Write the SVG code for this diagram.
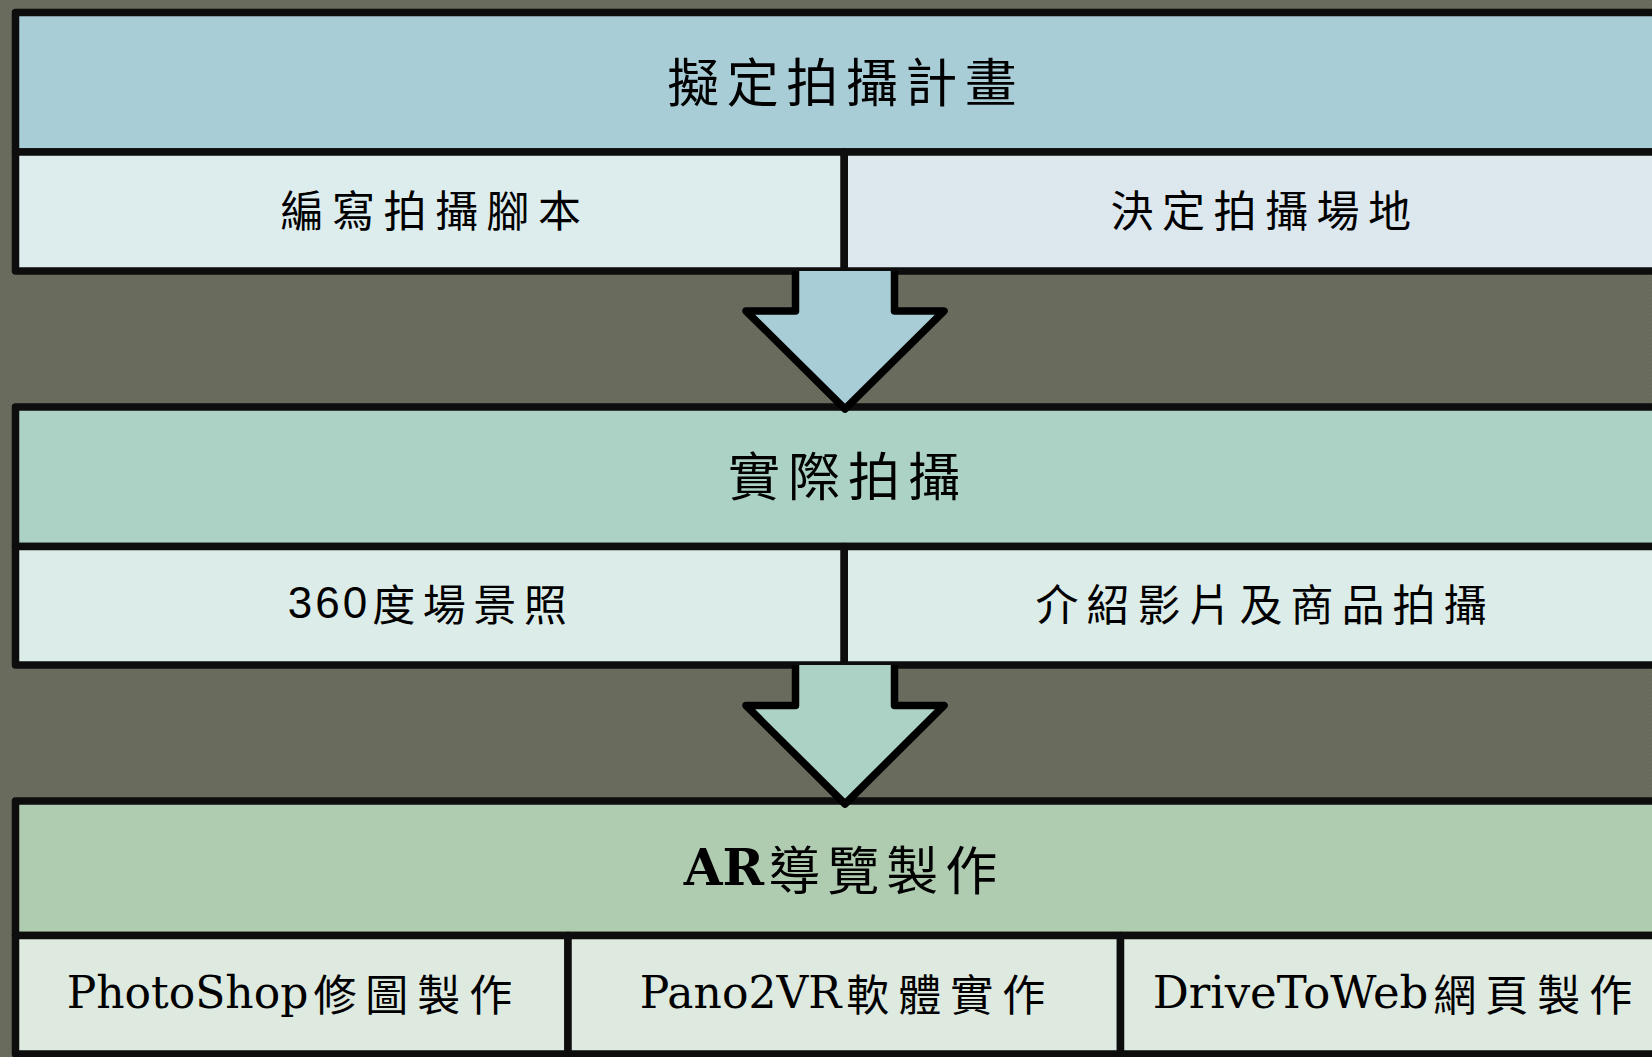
<svg xmlns="http://www.w3.org/2000/svg" width="1652" height="1057" viewBox="0 0 1652 1057">
  <defs>
    <pattern id="bgtex" width="4" height="4" patternUnits="userSpaceOnUse">
      <rect width="4" height="4" fill="#696b5d"/>
      <rect x="0" y="0" width="1" height="1" fill="#63655a"/>
      <rect x="2" y="2" width="1" height="1" fill="#63655a"/>
      <rect x="1" y="3" width="1" height="1" fill="#6e7061"/>
      <rect x="3" y="1" width="1" height="1" fill="#6e7061"/>
    </pattern>
  </defs>
  <style>
    .cell { stroke: #0d0d0d; stroke-width: 7.5; stroke-linejoin: round; }
    .arrow { stroke: #000; stroke-width: 7.5; stroke-linejoin: round; }
    .h1 { fill: #a8cdd6; }
    .s1a { fill: #ddecec; }
    .s1b { fill: #dce8ed; }
    .h2 { fill: #acd2c5; }
    .s2 { fill: #dcece8; }
    .h3 { fill: #afccb1; }
    .s3 { fill: #dee9e0; }
    .cjk { font-family: "Noto Sans CJK TC", "Noto Sans CJK SC", sans-serif; fill: #000; text-anchor: middle; dominant-baseline: central; }
    .big { font-size: 52px; letter-spacing: 7.5px; }
    .small { font-size: 43px; letter-spacing: 8.5px; }
    .slab { font-family: "DejaVu Serif", "Liberation Serif", serif; letter-spacing: 0px; }
    .num { font-family: "Liberation Sans", Arial, sans-serif; font-size: 44px; letter-spacing: 3px; }
  </style>
  <rect x="0" y="0" width="1652" height="1057" fill="url(#bgtex)"/>

  <g id="stage1">
    <g id="node-plan">
      <rect class="cell h1" x="15.5" y="12.5" width="1657.5" height="139.5"/>
      <text class="cjk big" x="845.75" y="79">擬定拍攝計畫</text>
    </g>
    <g id="node-script">
      <rect class="cell s1a" x="15.5" y="152" width="828.75" height="119"/>
      <text class="cjk small" x="435" y="208">編寫拍攝腳本</text>
    </g>
    <g id="node-location">
      <rect class="cell s1b" x="844.25" y="152" width="828.75" height="119"/>
      <text class="cjk small" x="1265" y="208">決定拍攝場地</text>
    </g>
  </g>

  <g id="stage2">
    <g id="node-shoot">
      <rect class="cell h2" x="15.5" y="407" width="1657.5" height="139.5"/>
      <text class="cjk big" x="848" y="473" style="letter-spacing:8px">實際拍攝</text>
    </g>
    <g id="node-360">
      <rect class="cell s2" x="15.5" y="546.5" width="828.75" height="118.5"/>
      <text class="cjk small" x="431" y="602" style="letter-spacing:7.5px"><tspan class="num">360</tspan><tspan dx="2">度場景照</tspan></text>
    </g>
    <g id="node-video">
      <rect class="cell s2" x="844.25" y="546.5" width="828.75" height="118.5"/>
      <text class="cjk small" x="1265" y="602" style="letter-spacing:8px">介紹影片及商品拍攝</text>
    </g>
  </g>

  <g id="stage3">
    <g id="node-ar">
      <rect class="cell h3" x="15.5" y="801" width="1657.5" height="134.5"/>
      <text class="cjk big" x="844" y="867" style="letter-spacing:7px"><tspan class="slab" font-weight="bold" font-size="50">AR</tspan><tspan dx="4">導覽製作</tspan></text>
    </g>
    <g id="node-photoshop">
      <rect class="cell s3" x="15.5" y="935.5" width="552.5" height="118.5"/>
      <text class="cjk small" x="294" y="992" style="letter-spacing:9px"><tspan class="slab" font-size="44">PhotoShop</tspan><tspan dx="5">修圖製作</tspan></text>
    </g>
    <g id="node-pano2vr">
      <rect class="cell s3" x="568" y="935.5" width="552.5" height="118.5"/>
      <text class="cjk small" x="847" y="992" style="letter-spacing:9px"><tspan class="slab" font-size="44">Pano2VR</tspan><tspan dx="5">軟體實作</tspan></text>
    </g>
    <g id="node-drivetoweb">
      <rect class="cell s3" x="1120.5" y="935.5" width="552.5" height="118.5"/>
      <text class="cjk small" x="1397" y="992" style="letter-spacing:9px"><tspan class="slab" font-size="45">DriveToWeb</tspan><tspan dx="5">網頁製作</tspan></text>
    </g>
  </g>

  <g id="connectors">
    <path class="arrow h1" d="M795.5,271 L795.5,311 L746,311 L845,409 L944,311 L894.5,311 L894.5,271"/>
    <path class="arrow h2" d="M795.5,665 L795.5,705.5 L746,705.5 L845,804 L944,705.5 L894.5,705.5 L894.5,665"/>
  </g>
</svg>
